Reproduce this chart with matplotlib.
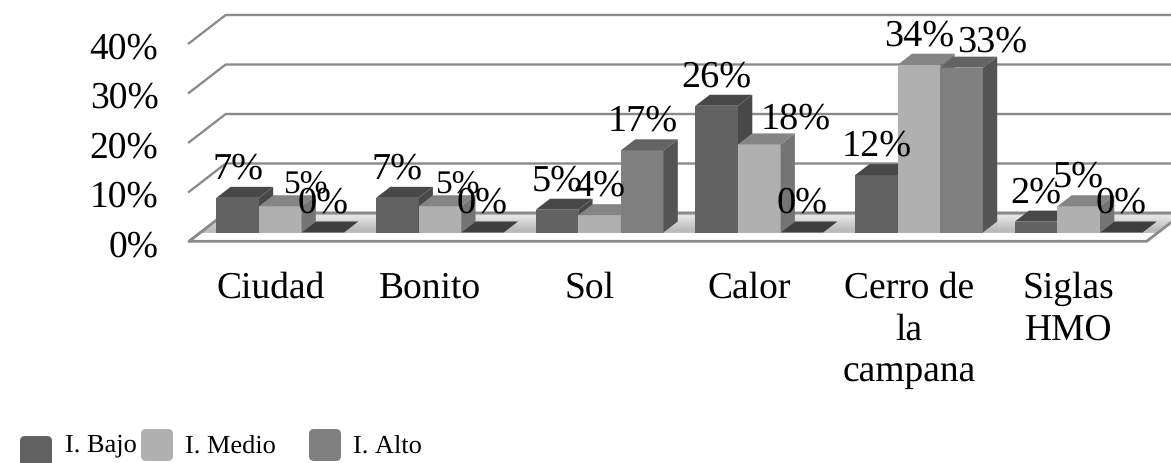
import numpy as np
import matplotlib
matplotlib.use('Agg')
import matplotlib.pyplot as plt
from matplotlib.patches import Polygon, FancyBboxPatch
from matplotlib.transforms import IdentityTransform, ScaledTranslation

categorias = ['Ciudad', 'Bonito', 'Sol', 'Calor', 'Cerro de\nla\ncampana', 'Siglas\nHMO']
series = ['I. Bajo', 'I. Medio', 'I. Alto']
bajo = [7.0, 7.0, 4.6, 25.6, 11.6, 2.2]
medio = [5.3, 5.3, 3.5, 17.8, 33.9, 5.3]
alto = [0.0, 0.0, 16.6, 0.0, 33.3, 0.0]
etiquetas_bajo = ['7%', '7%', '5%', '26%', '12%', '2%']
etiquetas_medio = ['5%', '5%', '4%', '18%', '34%', '5%']
etiquetas_alto = ['0%', '0%', '17%', '0%', '33%', '0%']
ticks_y = [0, 10, 20, 30, 40]

W, H = 1171, 464
plt.rcParams['font.family'] = ['Liberation Serif', 'DejaVu Serif']
plt.rcParams['text.hinting'] = 'none'
plt.rcParams['text.kerning_factor'] = 6
fig = plt.figure(figsize=(W / 100, H / 100), dpi=100)

# 1 categoria = 159.7 px, 1% = 4.95 px
ppx, ppy = 159.7, 4.95
ax = fig.add_axes([189 / W, (H - 233.5) / H, (W - 189) / W, 40 * ppy / H])
ax.set_xlim((189 - 280.2) / ppx, (W - 280.2) / ppx)
ax.set_ylim(0, 40)
for s in ax.spines.values():
    s.set_visible(False)

ancho = 42.6 / ppx
dx_barra, dy_barra = 14.3 / ppx, 11 / ppy
dx_pared, dy_pared = 36.7 / ppx, 28.3 / ppy
y_fondo = 19.5 / ppy
x0 = ax.get_xlim()[0]
x1 = ax.get_xlim()[1]
gris_linea = '#8a8a8a'

# suelo con degradado
x_fr = (1146.7 - 280.2) / ppx
suelo = Polygon([(x0, y_fondo - dy_pared), (x_fr, y_fondo - dy_pared),
                 (x_fr + dx_pared, y_fondo), (x0 + dx_pared, y_fondo)],
                closed=True, facecolor='none', edgecolor=gris_linea, lw=2,
                clip_on=False, zorder=2)
ax.add_patch(suelo)
grad = np.interp(np.linspace(0, 1, 60), [0, 0.1, 0.62, 0.72, 0.9, 1],
                 [0.86, 0.9, 0.72, 0.78, 0.95, 0.8]).reshape(-1, 1)
img = ax.imshow(grad, cmap='gray', vmin=0, vmax=1, aspect='auto', zorder=1,
                extent=(x0, x_fr + dx_pared, y_fondo - dy_pared, y_fondo),
                interpolation='bilinear')
img.set_clip_path(suelo)
ax.set_xlim((189 - 280.2) / ppx, (W - 280.2) / ppx)
ax.set_ylim(0, 40)

# lineas de la pared
for v in ticks_y:
    ax.plot([x0, x0 + dx_pared, x1], [v + y_fondo - dy_pared, v + y_fondo, v + y_fondo],
            color=gris_linea, lw=1.7, clip_on=False, zorder=1.5)

colores = [('#626262', '#484848', '#484848'),
           ('#b0b0b0', '#858585', '#747474'),
           ('#808080', '#636363', '#545454')]
valores = [bajo, medio, alto]
etiquetas = [etiquetas_bajo, etiquetas_medio, etiquetas_alto]
# etiquetas movidas a mano en el original: (serie, categoria): (dx, separacion) en px
ajustes = {(1, 0): (25, 3), (1, 1): (17, 3), (1, 3): (36, 5.5), (2, 4): (31, 6)}
x = np.arange(len(categorias))

z = 3
for i in x:
    for j in range(3):
        v = valores[j][i]
        cx = i + (j - 1) * ancho
        izq, der = cx - ancho / 2, cx + ancho / 2
        frente, arriba, lado = colores[j]
        if v == 0:
            arriba = '#3e3e3e'
        ax.bar(cx, v, width=ancho, color=frente, clip_on=False, zorder=z)
        ax.add_patch(Polygon([(izq, v), (der, v), (der + dx_barra, v + dy_barra), (izq + dx_barra, v + dy_barra)],
                             closed=True, facecolor=arriba, clip_on=False, zorder=z))
        ax.add_patch(Polygon([(der, 0), (der + dx_barra, dy_barra), (der + dx_barra, v + dy_barra), (der, v)],
                             closed=True, facecolor=lado, clip_on=False, zorder=z))
        z += 0.1
        ajuste_x, sep = ajustes.get((j, i), (0, 9.5))
        tam = 24 if j == 1 and i in (0, 1) else 27.5
        ax.annotate(etiquetas[j][i], xy=(cx, v + dy_barra), xytext=(ajuste_x, sep),
                    textcoords='offset pixels', ha='center', va='baseline',
                    fontsize=tam, color='black', annotation_clip=False, zorder=20)

ax.set_yticks(ticks_y)
ax.set_yticklabels([str(v) + '%' for v in ticks_y], fontsize=27)
ax.set_xticks(x)
ax.set_xticklabels(categorias, fontsize=27, linespacing=1.3)
ax.tick_params(axis='y', length=0, pad=22)
ax.tick_params(axis='x', length=0, pad=27)
for t in ax.get_yticklabels():
    t.set_transform(t.get_transform() + ScaledTranslation(0, -9.5 / 100, fig.dpi_scale_trans))
for t in ax.get_xticklabels():
    t.set_transform(t.get_transform() + ScaledTranslation(-10 / 100, 0, fig.dpi_scale_trans))

# leyenda, con las posiciones desordenadas del original
leyenda = [(20, 437, 65, 451, colores[0][0]),
           (141, 430, 185, 453, colores[1][0]),
           (309, 430, 353, 453, colores[2][0])]
for nombre, (mx, my, tx, ty, c) in zip(series, leyenda):
    fig.add_artist(FancyBboxPatch((mx + 3, H - my - 29), 26, 26, boxstyle='round,pad=3,rounding_size=5',
                                  facecolor=c, edgecolor='none', transform=IdentityTransform()))
    fig.text(tx / W, (H - ty) / H, nombre, fontsize=19, ha='left', va='baseline', color='black')

fig.savefig('out.png', dpi=100)
